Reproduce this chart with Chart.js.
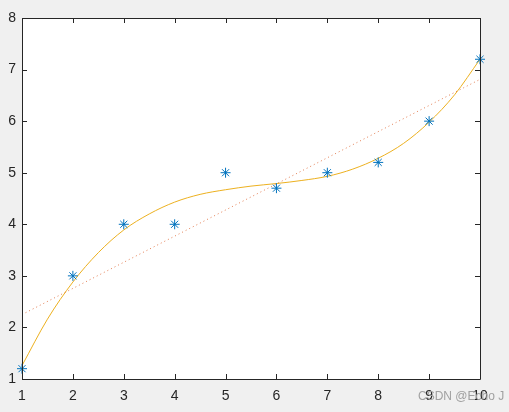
<!DOCTYPE html>
<html>
<head>
<meta charset="utf-8">
<script src="https://cdn.jsdelivr.net/npm/chart.js@4.4.1/dist/chart.umd.min.js"></script>
<style>
  html, body { margin: 0; padding: 0; background: #f0f0f0; }
  #wrap { width: 509px; height: 412px; }
</style>
</head>
<body>
<div id="wrap"><canvas id="fitChart" width="509" height="412"></canvas></div>
<script>
// measured points
const xData = [1, 2, 3, 4, 5, 6, 7, 8, 9, 10];
const yData = [1.2, 3, 4, 4, 5, 4.7, 5, 5.2, 6, 7.2];

// cubic fit curve
const curveX = [1, 1.5, 2, 2.5, 3, 3.5, 4, 4.5, 5, 5.5, 6, 6.5, 7, 7.5, 8, 8.5, 9, 9.5, 10];
const curveY = [1.26, 2.16, 2.88, 3.45, 3.89, 4.20, 4.43, 4.58, 4.67, 4.74, 4.79, 4.85, 4.93, 5.07, 5.28, 5.57, 5.98, 6.51, 7.20];

// straight line fit, end points
const lineX = [1, 10];
const lineY = [2.25, 6.81];

const xTicks = [1, 2, 3, 4, 5, 6, 7, 8, 9, 10];
const yTicks = [1, 2, 3, 4, 5, 6, 7, 8];

const toPts = (xs, ys) => xs.map((x, i) => ({ x: x, y: ys[i] }));

// box around the axes with inward tick marks (matlab look)
const boxPlugin = {
    id: 'box',
    afterDraw(chart) {
        const { ctx, chartArea: a, scales } = chart;
        ctx.save();
        ctx.lineWidth = 1;
        ctx.strokeStyle = '#262626';
        ctx.beginPath();
        ctx.rect(Math.round(a.left) + 0.5, Math.round(a.top) + 0.5,
                 Math.round(a.right - a.left), Math.round(a.bottom - a.top));
        ctx.stroke();
        ctx.beginPath();
        xTicks.forEach(v => {
            const px = Math.round(scales.x.getPixelForValue(v)) + 0.5;
            ctx.moveTo(px, a.bottom); ctx.lineTo(px, a.bottom - 5);
            ctx.moveTo(px, a.top); ctx.lineTo(px, a.top + 5);
        });
        yTicks.forEach(v => {
            const py = Math.round(scales.y.getPixelForValue(v)) + 0.5;
            ctx.moveTo(a.left, py); ctx.lineTo(a.left + 5, py);
            ctx.moveTo(a.right, py); ctx.lineTo(a.right - 5, py);
        });
        ctx.stroke();
        // watermark
        ctx.fillStyle = '#a0a0a0';
        ctx.font = '12px "Liberation Sans", Arial, sans-serif';
        ctx.textAlign = 'left';
        ctx.textBaseline = 'middle';
        ctx.fillText('CSDN @Echo J', 418, 397);
        ctx.restore();
    }
};

const bgPlugin = {
    id: 'bg',
    beforeDraw(chart) {
        const { ctx, chartArea: a } = chart;
        ctx.save();
        ctx.fillStyle = '#f0f0f0';
        ctx.fillRect(0, 0, chart.width, chart.height);
        ctx.fillStyle = '#ffffff';
        ctx.fillRect(a.left, a.top, a.right - a.left, a.bottom - a.top);
        ctx.restore();
    }
};

const labelFont = { family: '"Liberation Sans", Arial, sans-serif', size: 14 };

new Chart(document.getElementById('fitChart'), {
    type: 'scatter',
    data: {
        datasets: [
            {
                label: 'data',
                data: toPts(xData, yData),
                pointStyle: 'star',
                pointRadius: 5,
                borderColor: '#0072BD',
                backgroundColor: '#0072BD',
                borderWidth: 1,
                showLine: false,
                clip: false
            },
            {
                label: 'linear',
                data: toPts(lineX, lineY),
                showLine: true,
                borderColor: 'rgba(217, 83, 25, 0.75)',
                borderWidth: 1,
                borderDash: [1, 3],
                pointRadius: 0
            },
            {
                label: 'cubic',
                data: toPts(curveX, curveY),
                showLine: true,
                borderColor: '#EDB120',
                borderWidth: 1,
                cubicInterpolationMode: 'monotone',
                pointRadius: 0
            }
        ]
    },
    options: {
        responsive: false,
        animation: false,
        layout: { padding: { top: 18, right: 29, left: 0, bottom: 0 } },
        plugins: {
            legend: { display: false },
            tooltip: { enabled: false }
        },
        scales: {
            x: {
                type: 'linear',
                min: 1,
                max: 10,
                afterFit: s => { s.height = 33; },
                afterBuildTicks: s => { s.ticks = xTicks.map(v => ({ value: v })); },
                grid: { display: false, drawTicks: false },
                border: { display: false },
                ticks: { color: '#262626', font: labelFont, padding: 9, maxRotation: 0 }
            },
            y: {
                type: 'linear',
                min: 1,
                max: 8,
                afterFit: s => { s.width = 22; },
                afterBuildTicks: s => { s.ticks = yTicks.map(v => ({ value: v })); },
                grid: { display: false, drawTicks: false },
                border: { display: false },
                ticks: { color: '#262626', font: labelFont, padding: 6 }
            }
        }
    },
    plugins: [bgPlugin, boxPlugin]
});
</script>
</body>
</html>
